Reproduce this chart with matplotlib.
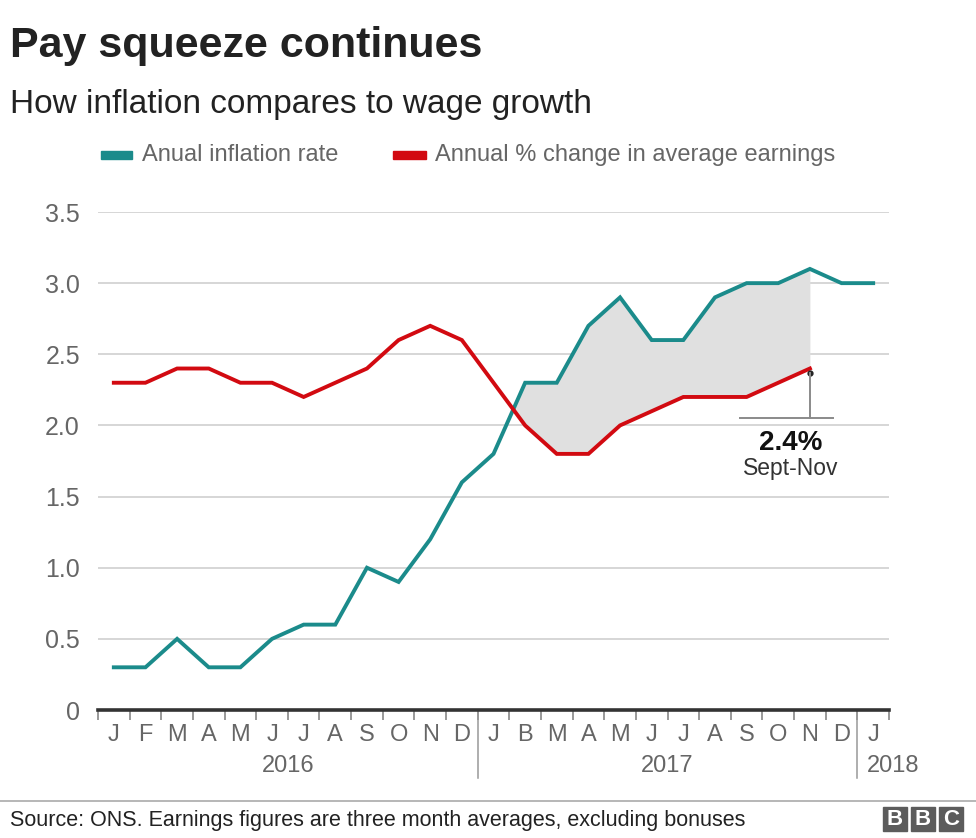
import matplotlib
matplotlib.use("Agg")
import matplotlib.pyplot as plt
import matplotlib.transforms as mtransforms
from matplotlib.patches import Rectangle
from matplotlib.lines import Line2D
import numpy as np

plt.rcParams['font.family'] = ['Liberation Sans', 'DejaVu Sans']

# ---- data ----
month_labels = ["J", "F", "M", "A", "M", "J", "J", "A", "S", "O", "N", "D",
                "J", "B", "M", "A", "M", "J", "J", "A", "S", "O", "N", "D", "J"]
years = ["2016", "2017", "2018"]
inflation = [0.3, 0.3, 0.5, 0.3, 0.3, 0.5, 0.6, 0.6, 1.0, 0.9, 1.2, 1.6,
             1.8, 2.3, 2.3, 2.7, 2.9, 2.6, 2.6, 2.9, 3.0, 3.0, 3.1, 3.0, 3.0]
earnings = [2.3, 2.3, 2.4, 2.4, 2.3, 2.3, 2.2, 2.3, 2.4, 2.6, 2.7, 2.6,
            2.3, 2.0, 1.8, 1.8, 2.0, 2.1, 2.2, 2.2, 2.2, 2.3, 2.4]
y_ticks = [0, 0.5, 1.0, 1.5, 2.0, 2.5, 3.0, 3.5]
y_tick_labels = ["0", "0.5", "1.0", "1.5", "2.0", "2.5", "3.0", "3.5"]
legend_labels = ["Anual inflation rate", "Annual % change in average earnings"]

TEAL = "#1b8b8b"
RED = "#d20a11"
GREY_TXT = "#666666"

W, H = 976, 838
fig = plt.figure(figsize=(W / 100, H / 100), dpi=100)

def fx(px):
    return px / W

def fy(py):
    return 1 - py / H

# axes: x from 98 to 889 px, y from 212 (3.5) to 710 (0)
ax = fig.add_axes([fx(98), fy(710), fx(889) - fx(98), (710 - 212) / H])

x_inf = np.arange(len(inflation))
x_earn = np.arange(len(earnings))
inf_arr = np.array(inflation)
earn_arr = np.array(earnings)

ax.set_xlim(-0.5, len(month_labels) - 0.5)
ax.set_ylim(0, 3.5)

# gridlines
for yv in y_ticks[1:]:
    ax.axhline(yv, color="#d0d0d0", lw=1.2, zorder=0)

# shaded gap
n = len(earnings)
ax.fill_between(x_earn, inf_arr[:n], earn_arr, where=inf_arr[:n] >= earn_arr,
                interpolate=True, color="#e0e0e0", lw=0, zorder=1)

ax.plot(x_inf, inf_arr, color=TEAL, lw=2.8, zorder=3, solid_joinstyle="miter", clip_on=False)
ax.plot(x_earn, earn_arr, color=RED, lw=2.8, zorder=3, solid_joinstyle="miter", clip_on=False)

# axis line at zero
ax.axhline(0, color="#333333", lw=2.6, zorder=4, clip_on=False)

for s in ax.spines.values():
    s.set_visible(False)

ax.set_yticks(y_ticks)
ax.set_yticklabels(y_tick_labels, fontsize=18, color=GREY_TXT)
ax.tick_params(axis="y", length=0, pad=13)

ax.set_xticks(np.arange(len(month_labels)))
ax.set_xticklabels(month_labels, fontsize=17, color=GREY_TXT)
ax.tick_params(axis="x", which="major", length=0, pad=10)
ax.set_xticks(np.arange(len(month_labels) + 1) - 0.5, minor=True)
ax.tick_params(axis="x", which="minor", length=7, width=1.2, color="#888888", direction="out")

# year dividers and labels
trans = mtransforms.blended_transform_factory(ax.transData, ax.transAxes)
for xd in [11.5, 23.5]:
    ax.add_line(Line2D([xd, xd], [0, -68 / (710 - 212)], transform=trans,
                       color="#999999", lw=1.1, clip_on=False))
year_y = -56 / (710 - 212)
ax.text(5.5, year_y, years[0], transform=trans, ha="center", va="center",
        fontsize=17, color=GREY_TXT)
ax.text(17.5, year_y, years[1], transform=trans, ha="center", va="center",
        fontsize=17, color=GREY_TXT)
ax.text(23.8, year_y, years[2], transform=trans, ha="left", va="center",
        fontsize=17, color=GREY_TXT)

# annotation
xi = len(earnings) - 1
dot_y = earnings[-1] - 0.035
ax.plot([xi], [dot_y], "o", color="#222222", ms=3.5, zorder=5)
ax.plot([xi, xi], [dot_y, 2.05], color="#8a8a8a", lw=1.4, zorder=5)
ax.plot([xi - 2.2, xi + 0.73], [2.05, 2.05], color="#8a8a8a", lw=1.4, zorder=5)
ax.text(xi - 0.6, 1.88, f"{earnings[-1]}%", ha="center", va="center",
        fontsize=20, fontweight="bold", color="#111111")
ax.text(xi - 0.6, 1.70, "Sept-Nov", ha="center", va="center",
        fontsize=16.5, color="#333333")

# title & subtitle
fig.text(fx(10), fy(46), "Pay squeeze continues", fontsize=31, fontweight="bold",
         color="#222222", ha="left", va="center")
fig.text(fx(10), fy(104), "How inflation compares to wage growth", fontsize=24,
         color="#222222", ha="left", va="center")

# legend
fig.patches.append(Rectangle((fx(101), fy(159)), fx(31), 8 / H, transform=fig.transFigure,
                             color=TEAL, figure=fig))
fig.text(fx(142), fy(155), legend_labels[0], fontsize=17, color=GREY_TXT, ha="left", va="center")
fig.patches.append(Rectangle((fx(393), fy(159)), fx(33), 8 / H, transform=fig.transFigure,
                             color=RED, figure=fig))
fig.text(fx(435), fy(155), legend_labels[1], fontsize=17, color=GREY_TXT, ha="left", va="center")

# footer
fig.add_artist(Line2D([0, 1], [fy(801), fy(801)], transform=fig.transFigure,
                      color="#aaaaaa", lw=1.2))
fig.text(fx(10), fy(820), "Source: ONS. Earnings figures are three month averages, excluding bonuses",
         fontsize=15.5, color="#222222", ha="left", va="center")
for i, letter in enumerate("BBC"):
    x0 = 883 + i * 28
    fig.patches.append(Rectangle((fx(x0), fy(831)), fx(24), 24 / H, transform=fig.transFigure,
                                 color="#5c5c5c", figure=fig))
    fig.text(fx(x0 + 12), fy(819), letter, fontsize=16, fontweight="bold",
             color="white", ha="center", va="center")

fig.savefig("out.png", dpi=100)
